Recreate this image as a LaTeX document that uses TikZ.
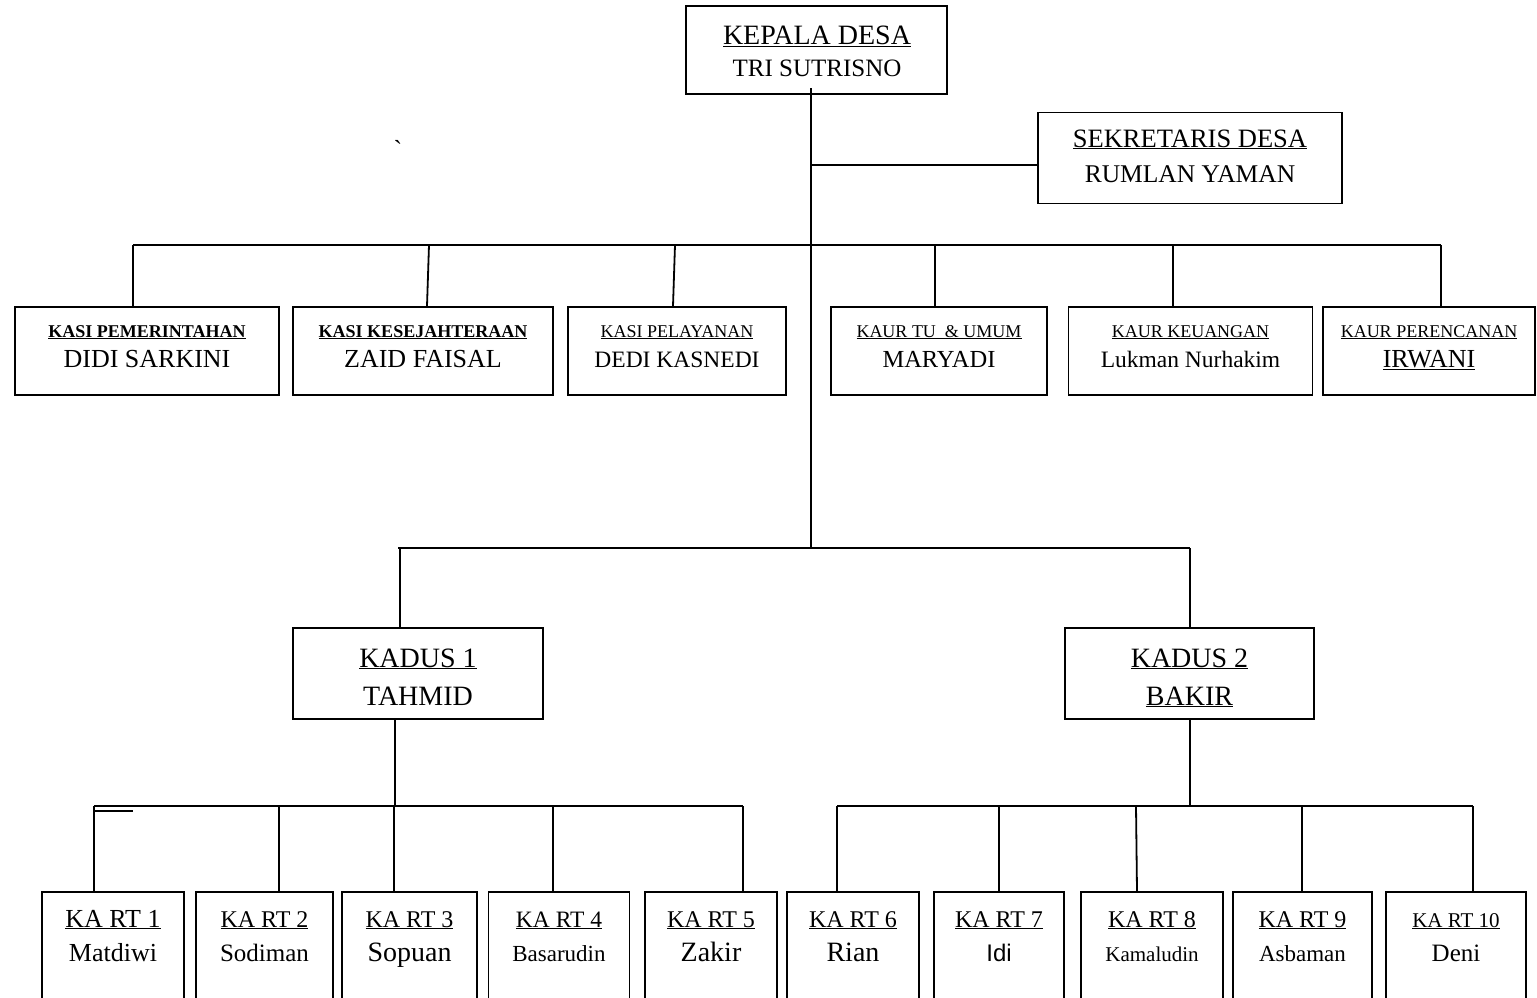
\documentclass[tikz,border=0pt]{standalone}
\usepackage{fontspec}
\setmainfont{Liberation Serif}
\setsansfont{Liberation Sans}
\newcommand{\ukuran}[1]{\fontsize{#1}{#1}\selectfont}

\begin{document}
\begin{tikzpicture}[x=1pt, y=-1pt, line width=1.8pt,
    kotak/.style={draw, line width=1.8pt, inner sep=0pt},
    teks/.style={anchor=base, inner sep=0pt}]
\useasboundingbox (0,0) rectangle (1537,998);
\clip (0,0) rectangle (1537,998);

\node[kotak, minimum width=261, minimum height=88] (kades) at (816.5,50) {};
\node[teks] (kadesJ) at (817,45) {\ukuran{28}\underline{KEPALA DESA}};
\node[teks] (kadesN) at (817,77) {\ukuran{25}TRI SUTRISNO};

\node[kotak, minimum width=304, minimum height=91] (sekdes) at (1190,158) {};
\node[teks] (sekdesJ) at (1190,147) {\ukuran{26.5}\underline{SEKRETARIS DESA}};
\node[teks] (sekdesN) at (1190,182) {\ukuran{25.5}RUMLAN YAMAN};

\node[teks] (tanda) at (398,158) {\ukuran{26}\textasciigrave};

\coordinate (pusat) at (811,88);
\coordinate (cabang) at (811,548);
\coordinate (sekY) at (811,165);
\coordinate (bus1) at (0,245);
\coordinate (bus2) at (0,548);
\coordinate (bus3) at (0,806);

\draw (pusat) -- (cabang);
\draw (sekY) -- (sekY -| sekdes.west);

\foreach \id/\cx/\w/\jab/\nama/\fn in {
    kasi1/147/264/{\bfseries KASI PEMERINTAHAN}/DIDI SARKINI/26,
    kasi2/423/260/{\bfseries KASI KESEJAHTERAAN}/ZAID FAISAL/26,
    kasi3/677/218/KASI PELAYANAN/DEDI KASNEDI/23.5,
    kaur1/939/216/{KAUR TU \ \& UMUM}/MARYADI/24.5,
    kaur2/1190.5/244/KAUR KEUANGAN/Lukman Nurhakim/23.5,
    kaur3/1429/212/KAUR PERENCANAN/{\underline{IRWANI}}/26}
{
    \node[kotak, minimum width=\w, minimum height=88] (\id) at (\cx,351) {};
    \node[teks] (\id J) at (\cx,337) {\ukuran{18}\underline{\jab}};
    \node[teks] (\id N) at (\cx,367) {\ukuran{\fn}\nama};
}

\draw (133,0 |- bus1) -- (1441,0 |- bus1);
\foreach \id/\xa/\xb in {kasi1/133/133, kasi2/429/427, kasi3/675/673, kaur1/935/935, kaur2/1173/1173, kaur3/1441/1441}
{
    \draw (\xa,0 |- bus1) -- (\xb,0 |- \id.north);
}

\node[kotak, minimum width=250, minimum height=91] (kadus1) at (418,673.5) {};
\node[teks] (kadus1J) at (418,667) {\ukuran{28}\underline{KADUS 1}};
\node[teks] (kadus1N) at (418,705) {\ukuran{28}TAHMID};
\node[kotak, minimum width=249, minimum height=91] (kadus2) at (1189.5,673.5) {};
\node[teks] (kadus2J) at (1189.5,667) {\ukuran{28}\underline{KADUS 2}};
\node[teks] (kadus2N) at (1189.5,705) {\ukuran{28}\underline{BAKIR}};

\draw (398,0 |- bus2) -- (1190,0 |- bus2);
\draw (400,0 |- bus2) -- (400,0 |- kadus1.north);
\draw (1190,0 |- bus2) -- (1190,0 |- kadus2.north);

\foreach \id/\cx/\w/\n/\fj/\nama/\fn in {
    rt1/113/142/1/26/Matdiwi/26,
    rt2/264.5/137/2/24/Sodiman/25,
    rt3/409.5/135/3/24/Sopuan/28,
    rt4/559/141/4/23.5/Basarudin/23,
    rt5/711/132/5/24/Zakir/28,
    rt6/853/132/6/24/Rian/28,
    rt7/999/130/7/24/{\sffamily Idi}/24,
    rt8/1152/142/8/24/Kamaludin/21,
    rt9/1302.5/139/9/24/Asbaman/23,
    rt10/1456/140/10/21/Deni/25}
{
    \node[kotak, minimum width=\w, minimum height=118] (\id) at (\cx,951) {};
    \node[teks] (\id J) at (\cx,927) {\ukuran{\fj}\underline{KA RT \n}};
    \node[teks] (\id N) at (\cx,961) {\ukuran{\fn}\nama};
}

\draw (395,0 |- kadus1.south) -- (395,0 |- bus3);
\draw (94,0 |- bus3) -- (743,0 |- bus3);
\draw[line width=1.2pt] (94,811) -- (133,811);
\foreach \id/\x in {rt1/94, rt2/279, rt3/394, rt4/553, rt5/743}
{
    \draw (\x,0 |- bus3) -- (\x,0 |- \id.north);
}

\draw (1190,0 |- kadus2.south) -- (1190,0 |- bus3);
\draw (837,0 |- bus3) -- (1473,0 |- bus3);
\foreach \id/\xa/\xb in {rt6/837/837, rt7/999/999, rt8/1136/1137, rt9/1302/1302, rt10/1473/1473}
{
    \draw (\xa,0 |- bus3) -- (\xb,0 |- \id.north);
}
\end{tikzpicture}
\end{document}
